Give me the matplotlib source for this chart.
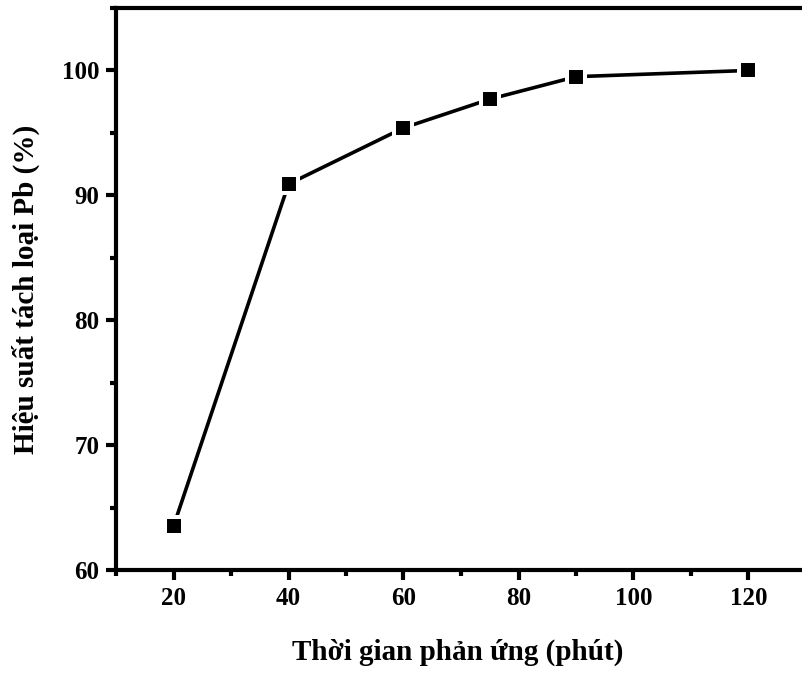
import matplotlib
matplotlib.use("Agg")
import matplotlib.pyplot as plt
from matplotlib.ticker import MultipleLocator

time_min = [20, 40, 60, 75, 90, 120]
efficiency = [63.5, 90.9, 95.4, 97.7, 99.5, 100.0]
xlabel = "Thời gian phản ứng (phút)"
ylabel = "Hiệu suất tách loại Pb (%)"

plt.rcParams['font.family'] = ['Liberation Serif', 'DejaVu Serif']
plt.rcParams['font.weight'] = 'bold'

fig = plt.figure(figsize=(8.03, 6.73), dpi=100)
ax = fig.add_axes([116/803, 103/673, 690/803, 562/673])

ax.plot(time_min, efficiency, color='black', lw=2.6, marker='s', ms=12.3,
        mfc='black', mec='white', mew=2.9, solid_joinstyle='miter')

ax.set_xlim(10, 130)
ax.set_ylim(60, 105)
ax.xaxis.set_major_locator(MultipleLocator(20))
ax.xaxis.set_minor_locator(MultipleLocator(10))
ax.yaxis.set_major_locator(MultipleLocator(10))
ax.yaxis.set_minor_locator(MultipleLocator(5))

for s in ax.spines.values():
    s.set_linewidth(3)
ax.tick_params(which='major', direction='out', length=7, width=3, labelsize=18, pad=5)
ax.tick_params(which='minor', direction='out', length=4.5, width=3)
ax.tick_params(top=False, right=False, which='both')
for lab in ax.get_xticklabels() + ax.get_yticklabels():
    lab.set_fontweight('bold')

ax.set_xlabel(xlabel, fontsize=21, fontweight='bold', va='center')
ax.set_ylabel(ylabel, fontsize=21, fontweight='bold', va='center')
ax.xaxis.set_label_coords((458 - 116) / 690, (673 - 652 - 103) / 562)
ax.yaxis.set_label_coords((26 - 116) / 690, 0.5)

fig.savefig("out.png", dpi=100)
